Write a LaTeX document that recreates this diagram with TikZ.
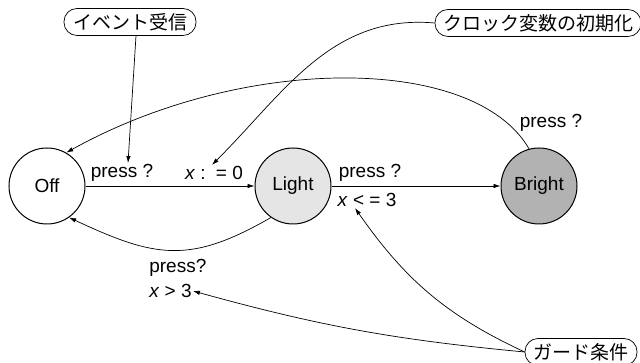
\documentclass[tikz,border=0pt]{standalone}
\usepackage{fontspec}
\setmainfont{Liberation Sans}
\newfontfamily\jpfont{Noto Sans CJK JP}
\usetikzlibrary{arrows.meta, positioning, calc, shapes}

\tikzset{
  lampstate/.style={circle, draw, line width=1pt, minimum size=76pt, inner sep=0pt, font=\fontsize{19}{22}\selectfont},
  note/.style={draw, rounded corners=13pt, minimum height=27pt, inner xsep=8pt, inner ysep=0pt, fill=white, font=\jpfont\fontsize{19}{21}\selectfont},
  lbl/.style={inner sep=1pt, font=\fontsize{19}{22}\selectfont},
}

\begin{document}
\begin{tikzpicture}[>={Latex[length=7pt,width=4.5pt]}, x=1pt, y=1pt, line width=0.7pt]
    \useasboundingbox (0,0) rectangle (640,363);

    \node[lampstate] (off) at (47,177) {Off};
    \node[lampstate, fill=gray!20, right=169pt of off] (light) {Light};
    \node[lampstate, fill=gray!60, right=169pt of light] (bright) {Bright};

    \node[lbl] (pressA) at (122,190) {press ?};
    \node[lbl] (resetX) at (214,190) {\textit{x} : \,= 0};
    \node[lbl] (pressB) at (370,190) {press ?};
    \node[lbl] (guardLe) at (367,163) {\textit{x} < = 3};
    \node[lbl] (pressC) at (551,240) {press ?};
    \node[lbl, anchor=west] (pressD) at (148,95) {press?};
    \node[lbl, anchor=west] (guardGt) at (148,72) {\textit{x} > 3};

    \node[note, minimum width=132pt] (recvNote) at (130,341) {イベント受信};
    \node[note, minimum width=197pt] (clockNote) at (538,340) {クロック変数の初期化};
    \node[note, minimum width=112pt] (guardNote) at (581,11) {ガード条件};

    \draw[->] (off) -- (light);
    \draw[->] (light) -- (bright);
    \draw[->] (bright.105) .. controls +(-55,95) and +(176,98) .. (off.60);
    \draw[->] (light.235) to[out=210, in=-25, looseness=1.2] (off.-55);

    \draw[->] ([xshift=6pt]recvNote.south) -- ([xshift=6pt]pressA.north);
    \draw[->] (clockNote.west) to[out=175, in=45] ([xshift=-2pt]resetX.north);
    \draw[->] (guardNote.west) to[out=155, in=-55] ([xshift=-12pt]guardLe.south);
    \draw[->] (guardNote.west) to[bend left=5] (guardGt.east);
\end{tikzpicture}
\end{document}
